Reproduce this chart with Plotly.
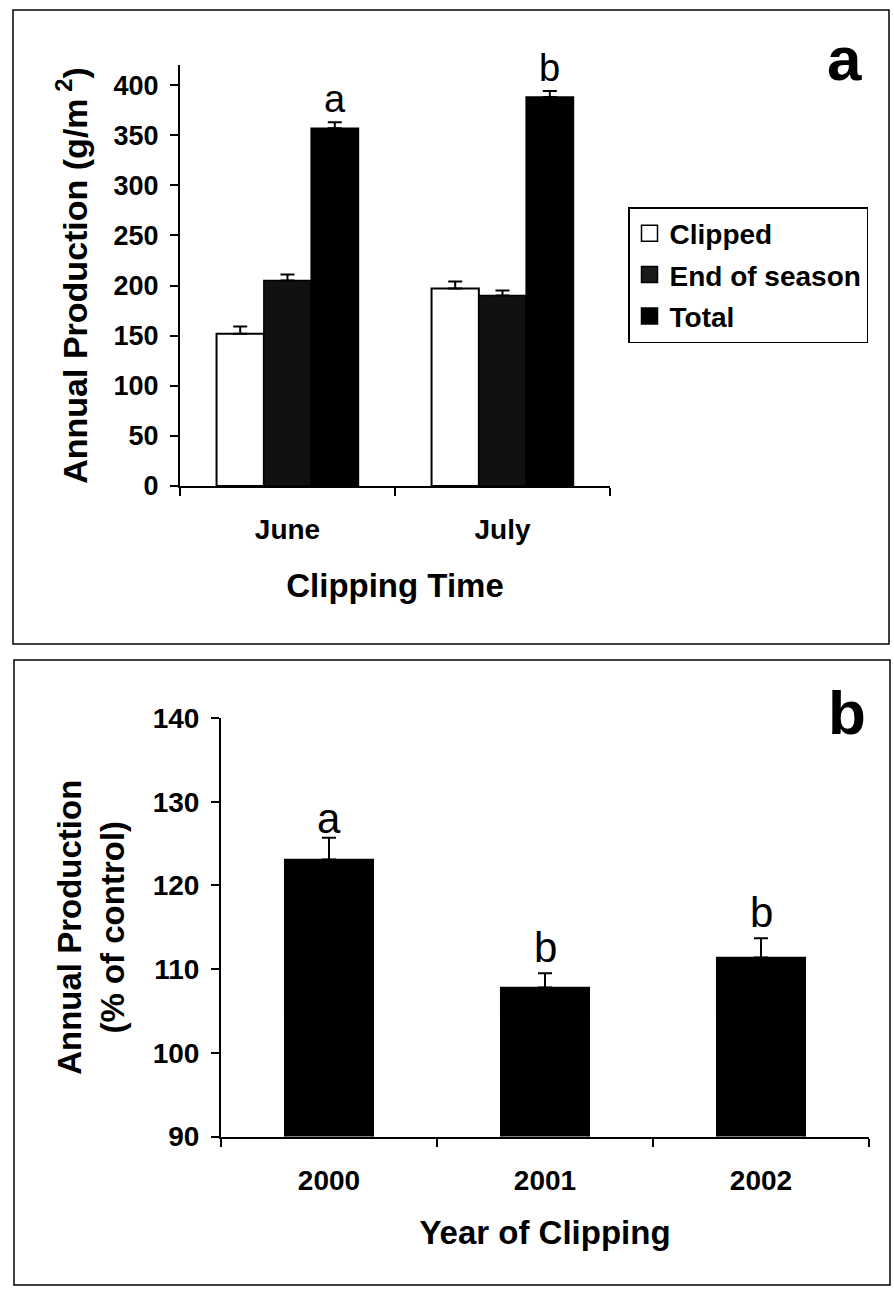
import plotly.graph_objects as go

# ---------------- data ----------------
months = ["June", "July"]
clipped = [152, 197]
clipped_err = [7, 7]
end_season = [205, 190]
end_season_err = [6, 5]
total = [357, 388]
total_err = [6, 6]
letters_a = ["a", "b"]

years = ["2000", "2001", "2002"]
pct_control = [123.1, 107.8, 111.4]
pct_err = [2.6, 1.7, 2.3]
letters_b = ["a", "b", "b"]

# ---------------- helpers ----------------
W, H = 894, 1293


def px(x):
    return x / W


def py(y):
    return 1 - y / H


FONT = "Liberation Sans, Arial, Helvetica, sans-serif"
BLACK = "#000000"
EOS_COLOR = "#111111"


def err(vals):
    return dict(type="data", symmetric=False, array=vals, arrayminus=[0] * len(vals),
                color=BLACK, thickness=2, width=7)


fig = go.Figure()

# panel a bars
fig.add_trace(go.Bar(name="Clipped", x=months, y=clipped, error_y=err(clipped_err),
                     marker=dict(color="white", line=dict(color=BLACK, width=2)),
                     xaxis="x", yaxis="y", showlegend=False))
fig.add_trace(go.Bar(name="End of season", x=months, y=end_season, error_y=err(end_season_err),
                     marker=dict(color=EOS_COLOR, line=dict(color=BLACK, width=1.5)),
                     xaxis="x", yaxis="y", showlegend=False))
fig.add_trace(go.Bar(name="Total", x=months, y=total, error_y=err(total_err),
                     marker=dict(color=BLACK, line=dict(color=BLACK, width=1.5)),
                     xaxis="x", yaxis="y", showlegend=False))

# legend entries (square swatches)
for nm, col, grp in [("Clipped", "white", "g1"), ("End of season", "#1a1a1a", "g2"), ("Total", BLACK, "g3")]:
    fig.add_trace(go.Scatter(name=nm, x=[None], y=[None], mode="markers", legendgroup=grp,
                             marker=dict(symbol="square", size=20, color=col,
                                         line=dict(color=BLACK, width=1.5)),
                             xaxis="x", yaxis="y", showlegend=True, hoverinfo="skip"))

# panel b bars
fig.add_trace(go.Bar(name="Annual production", x=years, y=pct_control, error_y=err(pct_err),
                     width=0.41, marker=dict(color=BLACK, line=dict(color=BLACK, width=1.5)),
                     xaxis="x2", yaxis="y2", showlegend=False))

# significance letters
bar_w = (1 - 0.34) / 3
letter_shift_b = [-6, 0, 0]
annotations = []
for i, (v, e, lt) in enumerate(zip(total, total_err, letters_a)):
    annotations.append(dict(x=i + bar_w, y=v + e, xref="x", yref="y", text=lt, showarrow=False,
                            xanchor="center", yanchor="bottom", yshift=0,
                            font=dict(family=FONT, size=38, color=BLACK)))
for i, (v, e, lt) in enumerate(zip(pct_control, pct_err, letters_b)):
    annotations.append(dict(x=i, y=v + e, xref="x2", yref="y2", text=lt, showarrow=False,
                            xanchor="center", yanchor="bottom", yshift=letter_shift_b[i],
                            font=dict(family=FONT, size=42, color=BLACK)))
# panel labels
annotations.append(dict(x=px(844), y=py(58), xref="paper", yref="paper", text="a", showarrow=False,
                        xanchor="center", yanchor="middle",
                        font=dict(family=FONT, size=62, color=BLACK, weight="bold")))
annotations.append(dict(x=px(847), y=py(712), xref="paper", yref="paper", text="b", showarrow=False,
                        xanchor="center", yanchor="middle",
                        font=dict(family=FONT, size=62, color=BLACK, weight="bold")))

axis_common = dict(showline=True, linecolor=BLACK, linewidth=2, ticks="outside", ticklen=8,
                   tickwidth=1.5, tickcolor=BLACK, showgrid=False, zeroline=False,
                   fixedrange=True, automargin=False)

fig.update_layout(
    width=W, height=H,
    margin=dict(l=0, r=0, t=0, b=0, autoexpand=False),
    paper_bgcolor="white", plot_bgcolor="white",
    barmode="group", bargap=0.34, bargroupgap=0,
    font=dict(family=FONT, color=BLACK),
    xaxis=dict(domain=[px(180), px(610)], anchor="y", type="category", tickson="boundaries",
               tickfont=dict(family=FONT, size=28, color=BLACK, weight="bold"),
               ticklabelstandoff=17,
               title=dict(text="Clipping Time", standoff=30,
                          font=dict(family=FONT, size=33, color=BLACK, weight="bold")),
               **axis_common),
    yaxis=dict(domain=[py(486), py(65)], anchor="x", range=[0, 420], tick0=0, dtick=50,
               tickfont=dict(family=FONT, size=27, color=BLACK, weight="bold"),
               ticklabelstandoff=6,
               title=dict(text="Annual Production (g/m<sup> 2</sup>)", standoff=16,
                          font=dict(family=FONT, size=34, color=BLACK, weight="bold")),
               **axis_common),
    xaxis2=dict(domain=[px(221), px(869)], anchor="y2", type="category", tickson="boundaries",
                tickfont=dict(family=FONT, size=28, color=BLACK, weight="bold"),
                ticklabelstandoff=18,
                title=dict(text="Year of Clipping", standoff=26,
                           font=dict(family=FONT, size=33, color=BLACK, weight="bold")),
                **axis_common),
    yaxis2=dict(domain=[py(1136.5), py(718)], anchor="x2", range=[90, 140], tick0=90, dtick=10,
                tickfont=dict(family=FONT, size=28, color=BLACK, weight="bold"),
                ticklabelstandoff=6,
                title=dict(text="Annual Production<br>(% of control)", standoff=18,
                           font=dict(family=FONT, size=33, color=BLACK, weight="bold")),
                **axis_common),
    legend=dict(x=px(628), y=py(207), xanchor="left", yanchor="top",
                bordercolor=BLACK, borderwidth=1.5, bgcolor="white",
                font=dict(family=FONT, size=28, color=BLACK, weight="bold"),
                traceorder="grouped", tracegroupgap=2, itemwidth=30),
    annotations=annotations,
    shapes=[
        dict(type="rect", xref="paper", yref="paper", x0=px(13), x1=px(889), y0=py(644), y1=py(10),
             line=dict(color=BLACK, width=1.5), fillcolor="rgba(0,0,0,0)"),
        dict(type="rect", xref="paper", yref="paper", x0=px(14), x1=px(890), y0=py(1285), y1=py(660),
             line=dict(color=BLACK, width=1.5), fillcolor="rgba(0,0,0,0)"),
    ],
)

fig.write_html("out.html", config={"displayModeBar": False},
               post_script="document.body.style.margin='0';")
